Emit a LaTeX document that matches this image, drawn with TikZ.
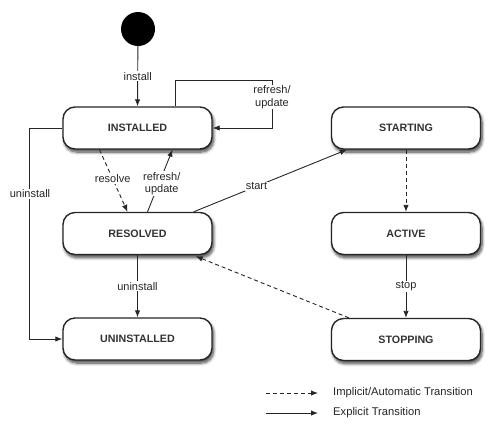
\documentclass[tikz,border=0pt]{standalone}
\usepackage{fontspec}
\setmainfont{Liberation Sans}
\usetikzlibrary{arrows.meta,calc,shadows,shadows.blur}
\begin{document}
\begin{tikzpicture}[x=1bp,y=-1bp,
  state/.style={draw=black!85,line width=1.4bp,fill=white,rounded corners=12bp,
    minimum width=149bp,minimum height=42bp,inner sep=0pt,text=black!80,
    font=\fontsize{10.7bp}{13bp}\selectfont\bfseries,
    blur shadow={shadow xshift=1.5bp,shadow yshift=-3bp,shadow blur steps=8,shadow blur radius=3bp,shadow opacity=75}},
  tr/.style={draw=black!85,line width=0.9bp,-{Latex[length=7bp,width=5.5bp]}},
  imp/.style={tr,dash pattern=on 4bp off 3bp},
  lbl/.style={fill=white,inner sep=1bp,text=black!85,font=\fontsize{11bp}{12.5bp}\selectfont,align=center},
  leg/.style={anchor=west,inner sep=0pt,text=black!85,font=\fontsize{11.2bp}{12bp}\selectfont}]
\useasboundingbox (0,0) rectangle (496,428);
\node[circle,fill=black,minimum size=34bp,inner sep=0pt] (init) at (138,29) {};
\node[state] (inst) at (137.5,128) {INSTALLED};
\node[state] (res) at (137.5,233.5) {RESOLVED};
\node[state] (uni) at (137.5,339) {UNINSTALLED};
\node[state] (sta) at (406,128) {STARTING};
\node[state] (act) at (406,233.5) {ACTIVE};
\node[state] (stp) at (406,339.5) {STOPPING};
% install
\draw[tr] (init) -- node[lbl]{install} (inst.north);
% refresh/update loop
\coordinate (lp) at (272,80);
\draw[tr] ($(inst.north)+(37.5,0)$) |- (lp) |- (inst.east);
\node[lbl] (lplbl) at (272,97) {refresh/\\update};
% resolve
\draw[imp] ($(inst.south)+(-38,0)$) -- node[lbl,pos=0.47]{resolve} ($(res.north)+(-10,0)$);
% refresh/update
\draw[tr] ($(res.north)+(10,0)$) -- node[lbl,pos=0.45,xshift=3bp]{refresh/\\update} ($(inst.south)+(35,0)$);
% uninstall left
\draw[tr] (inst.west) -- ++(-33,0) coordinate (ul) |- (uni.west);
\node[lbl] (ulbl) at (30,194) {uninstall};
% uninstall
\draw[tr] (res.south) -- node[lbl]{uninstall} (uni.north);
% start
\draw[tr] ($(res.north east)+(-19,0)$) -- node[lbl,pos=0.41]{start} ($(sta.south west)+(16,0)$);
% starting -> active
\draw[imp] (sta.south) -- (act.north);
% stop
\draw[tr] (act.south) -- node[lbl]{stop} (stp.north);
% stopping -> resolved
\draw[imp] ($(stp.north west)+(18,0)$) -- ($(res.south east)+(-17,1)$);
% legend
\coordinate (l1a) at (266,393);
\coordinate (l1b) at (318,393);
\coordinate (l2a) at (266,413);
\coordinate (l2b) at (318,413);
\draw[imp] (l1a) -- (l1b);
\draw[tr] (l2a) -- (l2b);
\node[leg] (t1) at (333,393) {Implicit/Automatic Transition};
\node[leg] (t2) at (333,413) {Explicit Transition};
\end{tikzpicture}
\end{document}
